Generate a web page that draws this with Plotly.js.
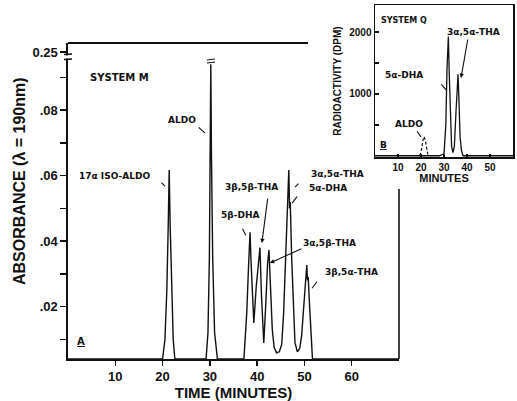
<!DOCTYPE html>
<html><head><meta charset="utf-8">
<script src="https://cdn.plot.ly/plotly-3.0.1.min.js"></script>
<style>html,body{margin:0;padding:0;background:#fff}#chart{width:517px;height:401px}</style>
</head><body><div id="chart"></div>
<script>
// ---- Data: System M (UV absorbance, lambda = 190 nm) ----
const timeM = [0, 20.0, 20.5, 20.9, 21.2, 21.4, 21.6, 21.9, 22.25, 22.6,
  29.2, 29.6, 29.9, 30.05, 30.2, 30.35, 30.6, 31.0, 31.6,
  37.2, 37.8, 38.2, 38.5, 38.7, 39.0, 39.3, 39.8, 40.3, 40.6, 40.9, 41.2, 41.4,
  41.8, 42.2, 42.5, 42.8, 43.2, 43.6, 44.1, 44.7, 45.2, 45.6, 46.0, 46.4, 46.7,
  46.85, 47.0, 47.3, 47.7, 48.0, 48.5, 49.0, 49.4, 49.9, 50.3, 50.5, 50.65, 50.8,
  51.1, 51.4, 51.7, 70];
const absM = [0.004, 0.004, 0.010, 0.025, 0.045, 0.0617, 0.045, 0.025, 0.010, 0.004,
  0.004, 0.012, 0.035, 0.065, 0.094, 0.065, 0.035, 0.012, 0.004,
  0.004, 0.018, 0.033, 0.0427, 0.034, 0.022, 0.015, 0.026, 0.035, 0.038, 0.024, 0.012, 0.0089,
  0.020, 0.033, 0.0373, 0.026, 0.013, 0.0075, 0.0059, 0.0062, 0.0085, 0.018, 0.036, 0.053, 0.0617,
  0.050, 0.052, 0.035, 0.018, 0.009, 0.0062, 0.0072, 0.011, 0.022, 0.031, 0.0327, 0.028, 0.029,
  0.020, 0.010, 0.004, 0.004];
const yTickVals = [0.02, 0.04, 0.06, 0.08, 0.0977];
const yTickText = ['.02', '.04', '.06', '.08', '0.25'];
const yMinorVals = [0.01, 0.03, 0.05, 0.07, 0.09];
const xTickVals = [10, 20, 30, 40, 50, 60];

// ---- Data: System Q (radioactivity, DPM) ----
const timeQ = [0, 28, 30, 30.8, 31.3, 31.9, 32.3, 32.8, 33.3, 33.9, 34.5, 35.2, 35.8, 36.1, 36.5, 37.0, 37.6, 38.3, 60];
const dpmQ = [0, 0, 30, 500, 1400, 1930, 1300, 500, 150, 50, 150, 700, 1250, 1320, 900, 300, 80, 0, 0];
const timeAldoQ = [19.5, 20.3, 21.0, 21.4, 21.9, 22.5, 23.1];
const dpmAldoQ = [0, 120, 280, 310, 240, 100, 0];

// ---- layout helpers (pixel -> paper) ----
const W = 517, H = 401;
const px = v => v / W, py = v => 1 - v / H;
const FONT = 'Liberation Sans, Arial, sans-serif';
const LFONT = 'DejaVu Sans, Liberation Sans, sans-serif';
const ink = '#111';

const traces = [
  {x: timeM, y: absM, xaxis: 'x', yaxis: 'y', mode: 'lines', line: {color: ink, width: 1.4}, hoverinfo: 'skip'},
  {x: timeQ, y: dpmQ, xaxis: 'x2', yaxis: 'y2', mode: 'lines', line: {color: ink, width: 1.3}, hoverinfo: 'skip'},
  {x: timeAldoQ, y: dpmAldoQ, xaxis: 'x2', yaxis: 'y2', mode: 'lines', line: {color: ink, width: 1.2, dash: '3px,2px'}, hoverinfo: 'skip'}
];

const lab = (text, x, y, ref, size, extra) => Object.assign({
  text: text, x: x, y: y, xref: ref[0], yref: ref[1], showarrow: false,
  font: {family: LFONT, size: size || 9, color: ink, weight: 'bold'}, xanchor: 'center', yanchor: 'middle'
}, extra || {});
const arr = (x, y, ax, ay, ref, head) => ({
  text: '', x: x, y: y, xref: ref[0], yref: ref[1], showarrow: true, ax: ax, ay: ay,
  arrowhead: head ? 2 : 0, arrowsize: 0.8, arrowwidth: 1.1, arrowcolor: ink, standoff: 0, startstandoff: 0
});
const M = ['x', 'y'], Q = ['x2', 'y2'];

const annotations = [
  {text: 'ABSORBANCE (λ = 190nm)', xref: 'paper', yref: 'paper', x: px(19), y: py(181), textangle: -90,
   showarrow: false, xanchor: 'center', yanchor: 'middle',
   font: {family: FONT, size: 16, color: ink, weight: 'bold'}},
  lab('SYSTEM M', 10.8, 0.0901, M, 10),
  lab('ALDO', 24.1, 0.0769, M, 9),
  arr(29.0, 0.073, -8, -7, M, false),
  lab('17α ISO-ALDO', 9.9, 0.0598, M, 9),
  arr(20.5, 0.0568, -5, -5, M, false),
  lab('3β,5β-THA', 38.7, 0.0565, M, 9),
  arr(41.0, 0.0394, 6, -46, M, true),
  lab('5β-DHA', 36.4, 0.0479, M, 9),
  arr(37.6, 0.0418, -4, -8, M, false),
  lab('3α,5α-THA', 56.9, 0.0605, M, 9),
  arr(48.0, 0.0565, 5, -5, M, false),
  lab('5α-DHA', 55.0, 0.0562, M, 9),
  arr(47.4, 0.0516, 6, -8, M, false),
  lab('3α,5β-THA', 55.4, 0.0394, M, 9),
  arr(42.7, 0.0333, 33, -15, M, true),
  lab('3β,5α-THA', 60.0, 0.0305, M, 9),
  arr(51.6, 0.0256, 6, -8, M, false),
  lab('<u>A</u>', 2.75, 0.0092, M, 10),
  lab('SYSTEM Q', 12.5, 2194, Q, 8),
  lab('3α,5α-THA', 43, 2000, Q, 9),
  arr(37.4, 1258, 7, -40, Q, true),
  lab('5α-DHA', 12.6, 1306, Q, 9),
  arr(30.9, 1065, -6, -7, Q, false),
  lab('ALDO', 14.8, 516, Q, 9),
  arr(20.0, 306, -5, -7, Q, false),
  lab('<u>B</u>', 3.5, 177, Q, 9)
];

const line = (x0, y0, x1, y1, w) => ({type: 'line', xref: 'paper', yref: 'paper',
  x0: px(x0), y0: py(y0), x1: px(x1), y1: py(y1), line: {color: ink, width: w || 1.6}, layer: 'above'});
const shapes = [
  line(68, 43, 308, 43, 1.8),          // top frame (partial)
  line(399, 189, 399, 359, 1.6),       // right frame (partial)
  {type: 'rect', xref: 'paper', yref: 'paper', x0: px(65), x1: px(72), y0: py(55.5), y1: py(58.5),
   fillcolor: '#fff', line: {width: 0}, layer: 'above'},   // axis break gap
  line(64, 54.5, 72, 54, 1.4), line(64, 59.5, 72, 59, 1.4),  // axis break marks
  line(207, 60, 215, 59, 1.2), line(207, 63, 215, 62, 1.2)    // ALDO off-scale break
];

const axBase = {showgrid: false, zeroline: false, showline: true, linecolor: ink, linewidth: 1.6,
  ticks: 'outside', tickcolor: ink, tickwidth: 1.4, fixedrange: true,
  tickfont: {family: FONT, size: 13, color: ink, weight: 'bold'}};

const layout = {
  width: W, height: H, margin: {l: 0, r: 0, t: 0, b: 0}, showlegend: false,
  paper_bgcolor: '#fff', plot_bgcolor: 'rgba(0,0,0,0)',
  xaxis: Object.assign({}, axBase, {domain: [px(68), px(399)], range: [0, 70], anchor: 'y',
    tickmode: 'array', tickvals: xTickVals, ticklen: 5,
    title: {text: 'TIME (MINUTES)', standoff: 2, font: {family: FONT, size: 15, color: ink, weight: 'bold'}}}),
  yaxis: Object.assign({}, axBase, {domain: [py(359), py(43)], range: [0.004, 0.1005], anchor: 'x',
    tickmode: 'array', tickvals: yTickVals, ticktext: yTickText, ticklen: 6,
    minor: {tickmode: 'array', tickvals: yMinorVals, ticklen: 6, tickcolor: ink, tickwidth: 1.4, ticks: 'outside'}}),
  xaxis2: Object.assign({}, axBase, {domain: [px(375), px(513)], range: [0, 60], anchor: 'y2', mirror: true,
    linewidth: 1.5, ticks: 'inside', ticklen: 3, tickmode: 'array', tickvals: [10, 20, 30, 40, 50],
    tickfont: {family: FONT, size: 10, color: ink, weight: 'bold'},
    title: {text: 'MINUTES', standoff: 3, font: {family: FONT, size: 11, color: ink, weight: 'bold'}}}),
  yaxis2: Object.assign({}, axBase, {domain: [py(157), py(5)], range: [-20, 2440], anchor: 'x2', mirror: true,
    linewidth: 1.5, ticks: 'inside', ticklen: 4, tickmode: 'array', tickvals: [1000, 2000],
    minor: {tickmode: 'array', tickvals: [500, 1500], ticklen: 4, tickcolor: ink, tickwidth: 1.4, ticks: 'inside'},
    tickfont: {family: FONT, size: 10, color: ink, weight: 'bold'},
    title: {text: 'RADIOACTIVITY (DPM)', standoff: 6, font: {family: FONT, size: 10, color: ink, weight: 'bold'}}}),
  annotations: annotations,
  shapes: shapes
};

Plotly.newPlot('chart', traces, layout, {staticPlot: true, displayModeBar: false});
</script></body></html>
